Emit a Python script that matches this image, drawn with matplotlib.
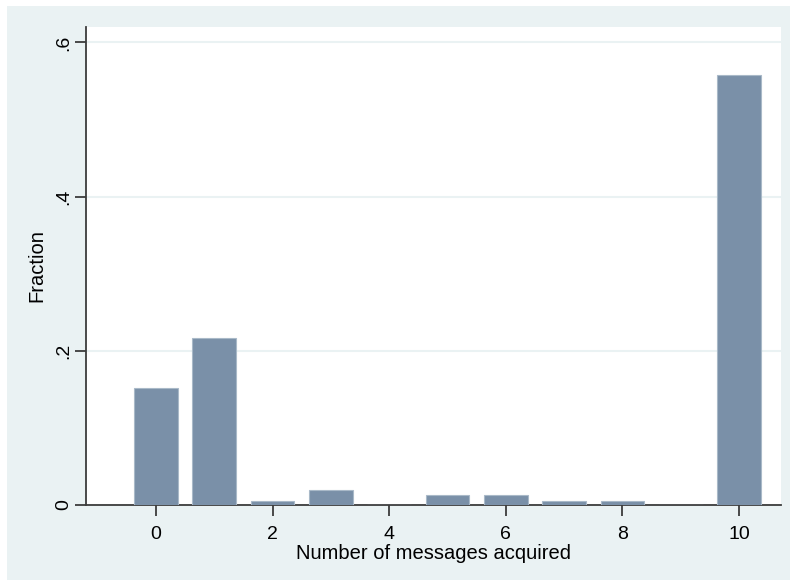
import matplotlib
matplotlib.use("Agg")
import matplotlib.pyplot as plt
from matplotlib.patches import Rectangle

# values
messages = [0, 1, 2, 3, 4, 5, 6, 7, 8, 9, 10]
fraction = [0.152, 0.216, 0.005, 0.019, 0.0, 0.013, 0.013, 0.005, 0.005, 0.0, 0.558]
y_ticks = [0, 0.2, 0.4, 0.6]
y_tick_labels = ["0", ".2", ".4", ".6"]
x_ticks = [0, 2, 4, 6, 8, 10]

bg_color = "#EAF2F3"
bar_color = "#7A90A8"
bar_edge = "#A9B9C8"
axis_color = "#3C3C3C"

plt.rcParams["font.family"] = ["Liberation Sans", "DejaVu Sans"]

fig = plt.figure(figsize=(7.9, 5.8), dpi=100)
fig.patch.set_facecolor("white")
# light graph region, leaving the thin white strip at top and left
fig.patches.append(Rectangle((7 / 790, 0), 1 - 7 / 790, 574 / 580,
                             transform=fig.transFigure, facecolor=bg_color,
                             edgecolor="none", zorder=-5))

ax = fig.add_axes([86 / 790, 1 - 505 / 580, (781 - 86) / 790, (505 - 27) / 580])
ax.set_facecolor("white")

ax.bar(messages, fraction, width=0.75, color=bar_color, edgecolor=bar_edge,
       linewidth=0.8, zorder=3)

ax.set_xlim(-1.2, 10.72)
ax.set_ylim(0, 0.62)

ax.set_yticks(y_ticks)
ax.set_yticklabels(y_tick_labels, rotation=90, va="center")
ax.set_xticks(x_ticks)

ax.grid(axis="y", color=bg_color, linewidth=1.5, zorder=1)
ax.grid(axis="x", visible=False)

for side in ["top", "right"]:
    ax.spines[side].set_visible(False)
for side in ["left", "bottom"]:
    ax.spines[side].set_color(axis_color)
    ax.spines[side].set_linewidth(1.3)

ax.tick_params(axis="both", direction="out", length=8, width=1.3,
               color=axis_color, labelsize=14, labelcolor="black", pad=7)
ax.tick_params(axis="y", pad=2)

ax.set_xlabel("Number of messages acquired", fontsize=14.5, labelpad=1)
ax.set_ylabel("Fraction", fontsize=14.5, labelpad=6)

fig.savefig("out.png", dpi=100, facecolor=fig.get_facecolor())
